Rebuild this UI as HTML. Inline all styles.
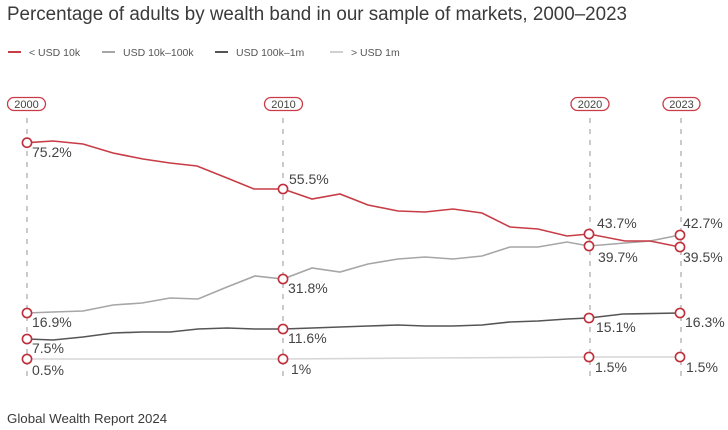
<!DOCTYPE html>
<html>
<head>
<meta charset="utf-8">
<style>
  html,body{margin:0;padding:0;background:#fff;}
  svg{display:block;}
  text{font-family:"Liberation Sans", sans-serif;}
</style>
</head>
<body>
<svg width="728" height="430" viewBox="0 0 728 430" xmlns="http://www.w3.org/2000/svg">
  <rect width="728" height="430" fill="#fff"/>
  <!-- Title -->
  <text x="7" y="20" font-size="19" fill="#3a3a3a" textLength="620" lengthAdjust="spacingAndGlyphs">Percentage of adults by wealth band in our sample of markets, 2000–2023</text>

  <!-- Legend -->
  <line x1="8" y1="52" x2="21" y2="52" stroke="#c83c46" stroke-width="2"/>
  <text x="29" y="56" font-size="10.5" fill="#555">&lt; USD 10k</text>
  <line x1="102" y1="52" x2="115" y2="52" stroke="#a6a6a6" stroke-width="2"/>
  <text x="123" y="56" font-size="10.5" fill="#555">USD 10k–100k</text>
  <line x1="215" y1="52" x2="228" y2="52" stroke="#555" stroke-width="2"/>
  <text x="236" y="56" font-size="10.5" fill="#555">USD 100k–1m</text>
  <line x1="330" y1="52" x2="343" y2="52" stroke="#d0d0d0" stroke-width="2"/>
  <text x="351" y="56" font-size="10.5" fill="#555">&gt; USD 1m</text>

  <!-- Year pills -->
  <g fill="#fff" stroke="#c83c46" stroke-width="1.3">
    <rect x="7.5" y="97.5" width="38" height="13" rx="6.5"/>
    <rect x="264.5" y="97.5" width="38" height="13" rx="6.5"/>
    <rect x="571" y="97.5" width="38" height="13" rx="6.5"/>
    <rect x="663" y="97.5" width="37" height="13" rx="6.5"/>
  </g>
  <g font-size="11" fill="#444" text-anchor="middle">
    <text x="26.5" y="108">2000</text>
    <text x="283.5" y="108">2010</text>
    <text x="590" y="108">2020</text>
    <text x="681.5" y="108">2023</text>
  </g>

  <!-- Dashed verticals -->
  <g stroke="#a8a8a8" stroke-width="1.2" stroke-dasharray="5 6">
    <line x1="27" y1="118" x2="27" y2="378"/>
    <line x1="283" y1="118" x2="283" y2="378"/>
    <line x1="590" y1="118" x2="590" y2="378"/>
    <line x1="681" y1="118" x2="681" y2="378"/>
  </g>

  <!-- Series -->
  <polyline fill="none" stroke="#d6d6d6" stroke-width="1.6"
    points="27,359 150,359 283,359 425,358 520,357.5 589,357 680,357"/>
  <polyline fill="none" stroke="#555" stroke-width="1.6"
    points="27,339 53,340 83,337 113,333 142,332 170,332 198,329 227,328 255,329 283,329 312,328 340,327 368,326 398,325 425,326 453,326 482,325 510,322 538,321 567,319 589,318 623,314 680,313"/>
  <polyline fill="none" stroke="#a6a6a6" stroke-width="1.6"
    points="27,313 53,312 83,311 113,305 142,303 170,298 198,299 227,287 255,276 283,279 312,268 340,272 368,264 398,259 425,257 453,259 482,256 510,247 538,247 567,242 589,246 625,243 650,241 680,235"/>
  <polyline fill="none" stroke="#c83c46" stroke-width="1.6"
    points="27,142.7 53,141 83,144 113,153 143,159 170,163 197,166 227,178 254,189 283,189 312,199 340,194 368,205 398,211 425,212 453,209 482,213 510,227 538,229 567,236 589,234 625,241 650,241 680,247"/>

  <!-- Markers -->
  <g fill="#fff" stroke="#c0303c" stroke-width="1.6">
    <circle cx="27" cy="142.7" r="4.6"/>
    <circle cx="27" cy="313" r="4.6"/>
    <circle cx="27" cy="339" r="4.6"/>
    <circle cx="27" cy="359" r="4.6"/>
    <circle cx="283" cy="189" r="4.6"/>
    <circle cx="283" cy="279" r="4.6"/>
    <circle cx="283" cy="329" r="4.6"/>
    <circle cx="283" cy="359" r="4.6"/>
    <circle cx="589" cy="234" r="4.6"/>
    <circle cx="589" cy="246" r="4.6"/>
    <circle cx="589" cy="318" r="4.6"/>
    <circle cx="589" cy="357" r="4.6"/>
    <circle cx="680" cy="235" r="4.6"/>
    <circle cx="680" cy="247" r="4.6"/>
    <circle cx="680" cy="313" r="4.6"/>
    <circle cx="680" cy="357" r="4.6"/>
  </g>

  <!-- Value labels -->
  <g font-size="14" fill="#444">
    <text x="32" y="157">75.2%</text>
    <text x="32" y="327">16.9%</text>
    <text x="32" y="353">7.5%</text>
    <text x="32" y="375">0.5%</text>
    <text x="289" y="184">55.5%</text>
    <text x="288" y="293">31.8%</text>
    <text x="288" y="343">11.6%</text>
    <text x="291" y="374">1%</text>
    <text x="597" y="228">43.7%</text>
    <text x="598" y="262">39.7%</text>
    <text x="596" y="332">15.1%</text>
    <text x="595" y="372">1.5%</text>
    <text x="683" y="228">42.7%</text>
    <text x="683" y="262">39.5%</text>
    <text x="685" y="327">16.3%</text>
    <text x="686" y="372">1.5%</text>
  </g>

  <!-- Footer -->
  <text x="7" y="423" font-size="13.3" fill="#3a3a3a">Global Wealth Report 2024</text>
</svg>
</body>
</html>
